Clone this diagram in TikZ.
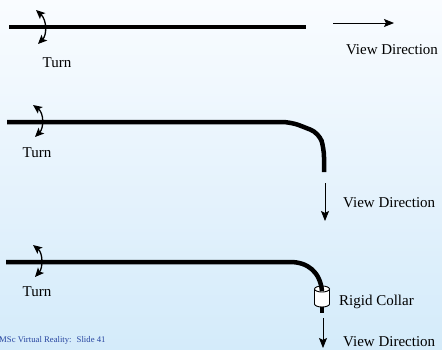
\documentclass[tikz,border=0pt]{standalone}
\usepackage{fontspec}
\setmainfont{Liberation Serif}
\usetikzlibrary{arrows.meta}
\begin{document}
\begin{tikzpicture}[x=1pt,y=-1pt,
  cable/.style={line width=4.5pt,black},
  viewarrow/.style={line width=0.9pt,-{Stealth[length=10pt,width=8pt,inset=2pt]}},
  turnarrow/.style={line width=1.3pt,{Stealth[length=9pt,width=8pt,inset=2pt]}-{Stealth[length=9pt,width=8pt,inset=2pt]}},
  lbl/.style={font=\fontsize{15}{17}\selectfont,inner sep=0pt},
  foot/.style={font=\fontsize{8.7}{10}\selectfont,text=footblue,inner sep=0pt,anchor=west}]
\definecolor{bgA}{RGB}{247,251,255}
\definecolor{bgB}{RGB}{212,235,250}
\definecolor{footblue}{RGB}{40,70,160}
\useasboundingbox (0,0) rectangle (442,349);
\shade[left color=bgA,right color=bgB,shading angle=0] (0,0) rectangle (442,349);
\shade[top color=bgA!0!white,bottom color=bgB,opacity=0.35] (0,0) rectangle (442,349);
% Row 1
\coordinate (c1a) at (9,27); \coordinate (c1b) at (306,27);
\draw[cable] (c1a) -- (c1b);
\coordinate (t1a) at (36,10); \coordinate (t1b) at (38,44);
\draw[turnarrow] (t1a) .. controls (47,20) and (47,35) .. (t1b);
\node[lbl] (turn1) at (57,63) {Turn};
\coordinate (v1a) at (333,23); \coordinate (v1b) at (394,23);
\draw[viewarrow] (v1a) -- (v1b);
\node[lbl] (view1) at (392,50) {View Direction};
% Row 2
\coordinate (c2a) at (7,122); \coordinate (c2b) at (324,172);
\draw[cable,rounded corners=9pt] (c2a) -- (291,122) -- (319,133) -- (324,148) -- (c2b);
\coordinate (t2a) at (33,105); \coordinate (t2b) at (35,137);
\draw[turnarrow] (t2a) .. controls (44,113) and (44,128) .. (t2b);
\node[lbl] (turn2) at (37,153) {Turn};
\coordinate (v2a) at (325,183); \coordinate (v2b) at (325,221);
\draw[viewarrow] (v2a) -- (v2b);
\node[lbl,anchor=west] (view2) at (343,203) {View Direction};
% Row 3
\coordinate (c3a) at (6,262); \coordinate (c3b) at (322,291);
\coordinate (t3a) at (33,245); \coordinate (t3b) at (35,277);
\draw[turnarrow] (t3a) .. controls (43,253) and (43,268) .. (t3b);
\node[lbl] (turn3) at (37,292) {Turn};
% collar
\draw[cable,line width=4pt] (322,303) -- (322,313);
\draw[black,line width=0.9pt,fill=white] (314.5,289) -- (314.5,304) arc[start angle=180,end angle=360,x radius=7.5pt,y radius=3pt] -- (329.5,289);
\draw[black,line width=0.9pt,fill=white] (322,289) ellipse[x radius=7.5pt,y radius=3pt];
\draw[cable] (c3a) -- (290,262) .. controls (308,262) and (320,272) .. (c3b);
\node[lbl,anchor=west] (collar) at (339,302) {Rigid Collar};
\coordinate (v3a) at (323,318); \coordinate (v3b) at (323,348);
\draw[viewarrow] (v3a) -- (v3b);
\node[lbl,anchor=west] (view3) at (343,342) {View Direction};
% footer
\node[foot] (footer) at (-1,340) {MSc Virtual Reality:~ Slide 41};
\end{tikzpicture}
\end{document}
